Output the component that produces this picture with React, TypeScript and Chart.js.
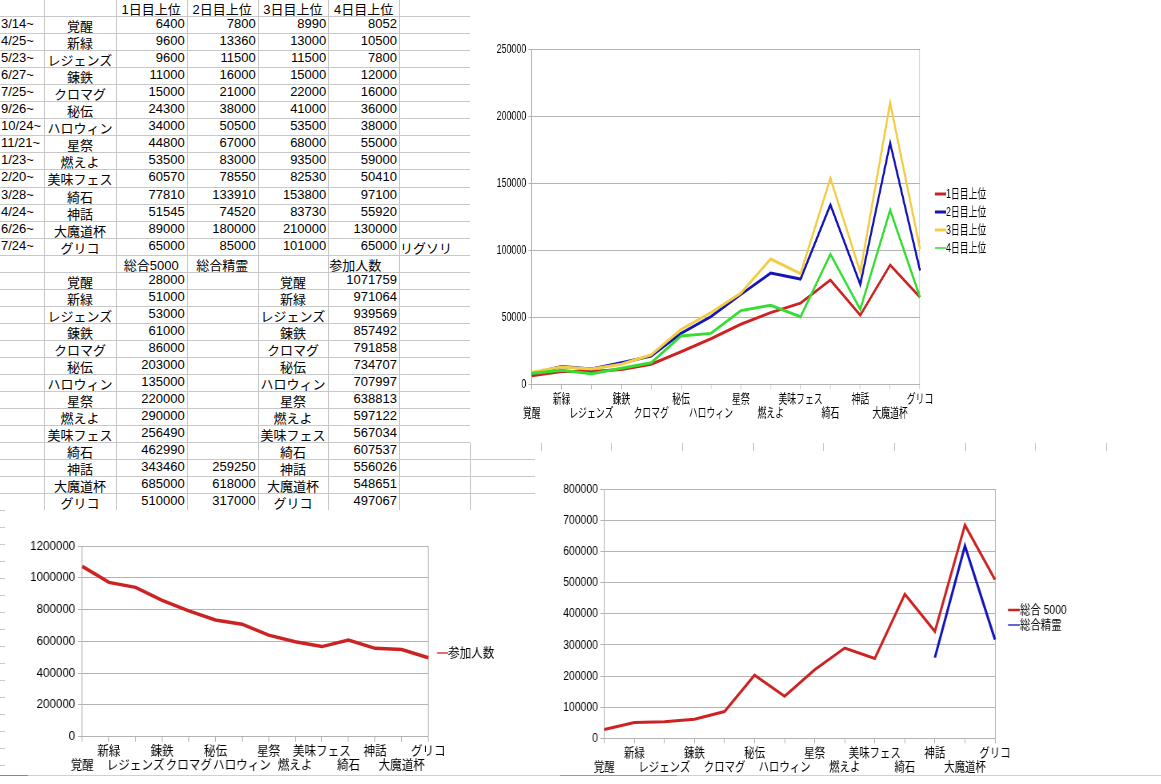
import React, { useEffect, useRef } from 'react';
import { Chart, registerables } from 'chart.js';

Chart.register(...registerables);

const FONT = "'Liberation Sans', 'Noto Sans CJK JP', sans-serif";
Chart.defaults.font.family = FONT;
Chart.defaults.font.size = 13;
Chart.defaults.color = '#000';

// ---------------- data ----------------
const dates = ['3/14~', '4/25~', '5/23~', '6/27~', '7/25~', '9/26~', '10/24~', '11/21~', '1/23~', '2/20~', '3/28~', '4/24~', '6/26~', '7/24~'];
const categories = ['覚醒', '新緑', 'レジェンズ', '錬鉄', 'クロマグ', '秘伝', 'ハロウィン', '星祭', '燃えよ', '美味フェス', '綺石', '神話', '大魔道杯', 'グリコ'];
const day1 = [6400, 9600, 9600, 11000, 15000, 24300, 34000, 44800, 53500, 60570, 77810, 51545, 89000, 65000];
const day2 = [7800, 13360, 11500, 16000, 21000, 38000, 50500, 67000, 83000, 78550, 133910, 74520, 180000, 85000];
const day3 = [8990, 13000, 11500, 15000, 22000, 41000, 53500, 68000, 93500, 82530, 153800, 83730, 210000, 101000];
const day4 = [8052, 10500, 7800, 12000, 16000, 36000, 38000, 55000, 59000, 50410, 97100, 55920, 130000, 65000];
const total5000 = [28000, 51000, 53000, 61000, 86000, 203000, 135000, 220000, 290000, 256490, 462990, 343460, 685000, 510000];
const totalSeirei: (number | null)[] = [null, null, null, null, null, null, null, null, null, null, null, 259250, 618000, 317000];
const participants = [1071759, 971064, 939569, 857492, 791858, 734707, 707997, 638813, 597122, 567034, 607537, 556026, 548651, 497067];

const headersTop = ['1日目上位', '2日目上位', '3日目上位', '4日目上位'];
const headersBottom = ['総合5000', '総合精霊', '参加人数'];
const noteText = 'リグソリ';

// ---------------- styling ----------------
const GRID = '#b3b3b3';
const SHEET_GRID = '#c8c8c8';
const RED = '#cc2222';
const BLUE = '#1414b8';
const YELLOW = '#f4cc44';
const GREEN = '#33dd33';
const BOX = 8;

type Series = {
  label: string;
  data: (number | null)[];
  color: string;
  width: number;
  legendWidth: number;
  order: number;
};

type Panel = {
  left: number; top: number; width: number; height: number; sx: number; fs: number;
  plot: { L: number; R: number; T: number; B: number };
  legend: { lineX: number; textX: number; firstY: number; spacing: number };
  series: Series[];
  yMax: number;
  yStep: number;
};

function legendLine(color: string, lw: number, len: number, fs: number) {
  const c = document.createElement('canvas');
  c.width = Math.round(BOX + fs);
  c.height = 8;
  const g = c.getContext('2d')!;
  g.strokeStyle = color;
  g.lineWidth = lw;
  g.beginPath();
  g.moveTo(c.width - len, 4);
  g.lineTo(c.width, 4);
  g.stroke();
  return c;
}

function makeConfig(p: Panel, st: { gap: number }): any {
  const lp = p.legend.spacing - p.fs;
  const lineLen = (p.legend.textX - p.legend.lineX) / p.sx;
  return {
    type: 'line',
    data: {
      labels: categories,
      datasets: p.series.map((s) => ({
        label: s.label,
        data: s.data,
        borderColor: s.color,
        backgroundColor: s.color,
        borderWidth: s.width,
        pointRadius: 0,
        pointHoverRadius: 0,
        tension: 0,
        fill: false,
        spanGaps: false,
        order: s.order,
      })),
    },
    options: {
      responsive: false,
      animation: false,
      events: [],
      layout: { padding: { left: 30, top: p.plot.T - p.top, right: 150, bottom: 10 } },
      plugins: {
        tooltip: { enabled: false },
        title: { display: false },
        legend: {
          display: true,
          position: 'right',
          fullSize: false,
          title: { display: true, text: '', padding: { top: 0, bottom: 0 }, font: { size: 1, lineHeight: 0 } },
          labels: {
            usePointStyle: true,
            pointStyleWidth: BOX,
            padding: lp,
            color: '#000',
            font: { size: p.fs, family: FONT },
            generateLabels: () =>
              p.series.map((s, i) => ({
                text: s.label,
                fillStyle: s.color,
                strokeStyle: s.color,
                lineWidth: 0,
                hidden: false,
                datasetIndex: i,
                fontColor: '#000',
                pointStyle: legendLine(s.color, s.legendWidth, lineLen, p.fs),
              })),
          },
        },
      },
      scales: {
        x: {
          type: 'category',
          offset: false,
          grid: { display: true, drawOnChartArea: false, drawTicks: true, tickLength: 5, color: GRID },
          border: { display: true, color: GRID },
          ticks: {
            autoSkip: false,
            maxRotation: 0,
            minRotation: 0,
            padding: 3,
            color: '#000',
            font: { size: p.fs, family: FONT, lineHeight: 14 / p.fs },
            callback: (_v: any, i: number) => (i % 2 === 0 ? ['', categories[i]] : [categories[i], '']),
          },
        },
        y: {
          type: 'linear',
          position: 'left',
          min: 0,
          max: p.yMax,
          grid: { color: GRID, tickLength: 5, drawTicks: true },
          border: { display: true, color: GRID },
          ticks: {
            stepSize: p.yStep,
            padding: 3,
            color: '#000',
            font: { size: p.fs, family: FONT },
            callback: (v: any) => String(v),
          },
        },
        y2: {
          type: 'linear',
          position: 'right',
          display: true,
          grid: { display: false, drawTicks: false },
          border: { display: true, color: GRID },
          ticks: { display: false },
          afterFit: (s: any) => {
            s.width = st.gap;
          },
        },
      },
    },
  };
}

function fitChart(chart: any, cfg: any, st: { gap: number }, p: Panel) {
  const W = chart.width;
  const sx = p.sx;
  const L = (p.plot.L - p.left) / sx;
  const R = (p.plot.R - p.left) / sx;
  const T = p.plot.T - p.top;
  const B = p.plot.B - p.top;
  const lp = p.legend.spacing - p.fs;
  const textX = (p.legend.textX - p.left) / sx;
  const cx = textX - BOX - p.fs / 2;
  const cy = p.legend.firstY - p.top;
  const n = p.series.length;
  for (let i = 0; i < 4; i++) {
    const ca = chart.chartArea;
    const lg = chart.legend;
    const pad = cfg.options.layout.padding;
    pad.left += L - ca.left;
    pad.top += T - ca.top;
    pad.bottom += ca.bottom - B;
    st.gap = Math.max(0.5, cx - lp - R);
    pad.right = W - (R + st.gap + lg.width);
    const colH = n * (p.fs + lp);
    const th = 2 * (cy - p.fs / 2) - T - lp - B + colH;
    cfg.options.plugins.legend.title.padding = { top: Math.max(0, th), bottom: 0 };
    chart.update('none');
  }
}

function ChartPanel({ p }: { p: Panel }) {
  const ref = useRef<HTMLCanvasElement>(null);
  const lw = Math.round(p.width / p.sx);
  useEffect(() => {
    if (!ref.current) return;
    const st = { gap: 10 };
    const cfg = makeConfig(p, st);
    const chart = new Chart(ref.current, cfg);
    fitChart(chart, cfg, st, p);
    return () => chart.destroy();
  }, []);
  return (
    <div style={{ position: 'absolute', left: p.left, top: p.top, width: p.width, height: p.height, overflow: 'hidden', background: '#fff' }}>
      <div style={{ width: lw, height: p.height, transform: `scaleX(${p.sx})`, transformOrigin: '0 0' }}>
        <canvas ref={ref} width={lw} height={p.height} style={{ display: 'block' }} />
      </div>
    </div>
  );
}

// ---------------- spreadsheet ----------------
const COLX = [0, 44.3, 115.7, 186.7, 257.7, 328.3, 399, 470];
const VLINES = [44, 116, 187, 258, 328, 399, 470, 541, 611, 682, 753, 823, 894, 965, 1035, 1106];
const rowBottom = (k: number) => 16.3 + 17.02 * k;

function Cell(props: { r: number; c: number; text: string; align: 'left' | 'right' | 'center' }) {
  const { r, c, text, align } = props;
  const top = r === 0 ? -0.7 : rowBottom(r - 1);
  const h = rowBottom(r) - top;
  return (
    <div
      style={{
        position: 'absolute',
        left: COLX[c],
        width: COLX[c + 1] - COLX[c],
        top,
        height: h,
        lineHeight: `${h}px`,
        textAlign: align,
        paddingLeft: align === 'left' ? 1 : 0,
        paddingRight: align === 'right' ? 2 : 0,
        boxSizing: 'border-box',
        whiteSpace: 'nowrap',
        overflow: 'visible',
        font: `13px ${FONT}`,
        color: '#000',
      }}
    >
      {text}
    </div>
  );
}

function Sheet() {
  const cells: React.ReactNode[] = [];
  headersTop.forEach((h, i) => cells.push(<Cell key={`h${i}`} r={0} c={2 + i} text={h} align="center" />));
  categories.forEach((name, i) => {
    const r = i + 1;
    cells.push(<Cell key={`d${i}`} r={r} c={0} text={dates[i]} align="left" />);
    cells.push(<Cell key={`n${i}`} r={r} c={1} text={name} align="center" />);
    cells.push(<Cell key={`a${i}`} r={r} c={2} text={String(day1[i])} align="right" />);
    cells.push(<Cell key={`b${i}`} r={r} c={3} text={String(day2[i])} align="right" />);
    cells.push(<Cell key={`c${i}`} r={r} c={4} text={String(day3[i])} align="right" />);
    cells.push(<Cell key={`e${i}`} r={r} c={5} text={String(day4[i])} align="right" />);
  });
  cells.push(<Cell key="note" r={14} c={6} text={noteText} align="left" />);
  cells.push(<Cell key="hb0" r={15} c={2} text={headersBottom[0]} align="center" />);
  cells.push(<Cell key="hb1" r={15} c={3} text={headersBottom[1]} align="center" />);
  cells.push(<Cell key="hb2" r={15} c={5} text={headersBottom[2]} align="left" />);
  categories.forEach((name, i) => {
    const r = i + 16;
    cells.push(<Cell key={`m${i}`} r={r} c={1} text={name} align="center" />);
    cells.push(<Cell key={`t${i}`} r={r} c={2} text={String(total5000[i])} align="right" />);
    if (totalSeirei[i] !== null) cells.push(<Cell key={`s${i}`} r={r} c={3} text={String(totalSeirei[i])} align="right" />);
    cells.push(<Cell key={`q${i}`} r={r} c={4} text={name} align="center" />);
    cells.push(<Cell key={`p${i}`} r={r} c={5} text={String(participants[i])} align="right" />);
  });
  const lines: React.ReactNode[] = [];
  for (let k = 0; k < 46; k++) {
    const y = Math.round(rowBottom(k));
    if (y > 772) break;
    lines.push(<div key={`hl${k}`} style={{ position: 'absolute', left: 0, top: y, width: 1161, height: 1, background: SHEET_GRID }} />);
  }
  VLINES.forEach((x, i) =>
    lines.push(<div key={`vl${i}`} style={{ position: 'absolute', left: x, top: 0, width: 1, height: 774, background: SHEET_GRID }} />)
  );
  return (
    <>
      {lines}
      {cells}
    </>
  );
}

// ---------------- charts ----------------
const panel1: Panel = {
  left: 470, top: 0, width: 691, height: 443, sx: 0.68, fs: 13,
  plot: { L: 531.7, R: 920, T: 49.3, B: 384.3 },
  legend: { lineX: 935, textX: 946, firstY: 194, spacing: 18 },
  series: [
    { label: '1日目上位', data: day1, color: RED, width: 3, legendWidth: 3, order: 4 },
    { label: '2日目上位', data: day2, color: BLUE, width: 3, legendWidth: 3, order: 3 },
    { label: '3日目上位', data: day3, color: YELLOW, width: 3, legendWidth: 3, order: 2 },
    { label: '4日目上位', data: day4, color: GREEN, width: 3, legendWidth: 1.5, order: 1 },
  ],
  yMax: 250000,
  yStep: 50000,
};

const panel2: Panel = {
  left: 5, top: 510, width: 530, height: 274, sx: 0.89, fs: 13,
  plot: { L: 82.3, R: 428.3, T: 546, B: 736.7 },
  legend: { lineX: 437, textX: 448, firstY: 653, spacing: 18 },
  series: [{ label: '参加人数', data: participants, color: RED, width: 3.5, legendWidth: 1.3, order: 1 }],
  yMax: 1200000,
  yStep: 200000,
};

const panel3: Panel = {
  left: 535, top: 451, width: 626, height: 333, sx: 0.8, fs: 13,
  plot: { L: 604.3, R: 995, T: 489.3, B: 738.3 },
  legend: { lineX: 1008, textX: 1020, firstY: 610, spacing: 15 },
  series: [
    { label: '総合 5000', data: total5000, color: RED, width: 3, legendWidth: 2.5, order: 2 },
    { label: '総合精霊', data: totalSeirei, color: BLUE, width: 3, legendWidth: 1.3, order: 1 },
  ],
  yMax: 800000,
  yStep: 100000,
};

export default function App() {
  useEffect(() => {
    document.body.style.margin = '0';
  }, []);
  return (
    <div style={{ position: 'fixed', left: 0, top: 0, width: 1161, height: 784, overflow: 'hidden', background: '#fff' }}>
      <Sheet />
      <ChartPanel p={panel1} />
      <ChartPanel p={panel2} />
      <ChartPanel p={panel3} />
      <div style={{ position: 'absolute', left: 0, top: 775, width: 1161, height: 1, background: '#d0d0d0' }} />
      <div style={{ position: 'absolute', left: 0, top: 775, width: 28, height: 1, background: '#888' }} />
      <div style={{ position: 'absolute', left: 560, top: 775, width: 117, height: 1, background: '#999' }} />
    </div>
  );
}
